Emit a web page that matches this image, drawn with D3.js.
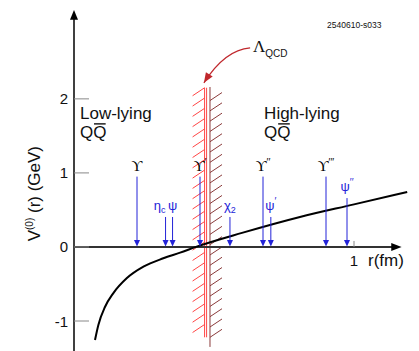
<!DOCTYPE html>
<html><head><meta charset="utf-8">
<script src="https://cdn.jsdelivr.net/npm/d3@7"></script>
<style>html,body{margin:0;padding:0;background:#fff}svg{display:block}</style>
</head><body><svg id="c" width="419" height="351"></svg>
<script>
// ---- data ----
const curveR = [0.075, 0.087, 0.111, 0.140, 0.188, 0.248, 0.319, 0.379, 0.438, 0.60, 0.807, 1.0, 1.19];
const curveV = [-1.257, -1.054, -0.807, -0.626, -0.423, -0.266, -0.153, -0.077, 0.004, 0.19, 0.405, 0.575, 0.743];
const yTicks = [-1, 0, 1, 2];
const yTickLabels = ["-1", "0", "1", "2"];
const xTicks = [1];
const xTickLabels = ["1"];
const stateName   = ["ϒ", "η", "ψ", "ϒ", "χ", "ϒ", "ψ", "ϒ", "ψ"];
const stateSub    = ["", "c", "", "", "2", "", "", "", ""];
const statePrime  = ["", "", "", "′", "", "′′", "′", "′′′", "′′"];
const stateR      = [0.225, 0.327, 0.352, 0.45, 0.557, 0.675, 0.703, 0.90, 0.975];
const stateTop    = [0.95, 0.405, 0.405, 0.95, 0.405, 0.95, 0.405, 0.95, 0.66];
const stateFamily = ["b", "c", "c", "b", "c", "b", "c", "b", "c"];
const lambdaR = [0.4664, 0.4736];
const lambdaRange = [-1.22, 2.15];
const wallR = 0.4857;
const wallRange = [-1.35, 2.16];

const svg = d3.select("#c");
const x = d3.scaleLinear().domain([0, 1.2]).range([74, 410]);
const y = d3.scaleLinear().domain([-1.405, 3.2]).range([351, 10]);
const SANS = "'Liberation Sans', Arial, Helvetica, sans-serif";
const SERIF = "'Liberation Serif', 'DejaVu Serif', serif";
const BLUE = "#2323d8";

// ---- Lambda_QCD wall with hatching ----
const hatch = svg.append("g");
lambdaR.forEach(r => {
  hatch.append("line").attr("x1", x(r)).attr("x2", x(r))
    .attr("y1", y(lambdaRange[1])).attr("y2", y(lambdaRange[0]))
    .attr("stroke", "#ff4545").attr("stroke-width", 1);
});
hatch.append("line").attr("x1", x(wallR)).attr("x2", x(wallR))
  .attr("y1", y(wallRange[1])).attr("y2", y(wallRange[0]))
  .attr("stroke", "#8a3a3a").attr("stroke-width", 1);
const redH = d3.range(lambdaRange[1], lambdaRange[0] + 0.12, -0.139);
hatch.selectAll(".rh").data(redH).join("line")
  .attr("x1", x(lambdaR[0]) - 12).attr("y1", d => y(d) + 8)
  .attr("x2", x(lambdaR[0])).attr("y2", d => y(d))
  .attr("stroke", "#ff4545").attr("stroke-width", 1);
const brH = d3.range(wallRange[1] - 0.075, wallRange[0] + 0.1, -0.139);
hatch.selectAll(".bh").data(brH).join("line")
  .attr("x1", x(wallR)).attr("y1", d => y(d) + 8)
  .attr("x2", x(wallR) + 12).attr("y2", d => y(d))
  .attr("stroke", "#8a3a3a").attr("stroke-width", 1);

// ---- axes ----
const ax = svg.append("g");
ax.append("line").attr("x1", x(0)).attr("x2", x(0)).attr("y1", 351).attr("y2", y(3.12))
  .attr("stroke", "#000").attr("stroke-width", 1.5);
ax.append("path").attr("d", `M${x(0)},${y(3.2)} L${x(0)-4},${y(3.07)} L${x(0)+4},${y(3.07)} Z`).attr("fill", "#000");
ax.append("line").attr("x1", x(0)).attr("x2", x(1.14)).attr("y1", y(0)).attr("y2", y(0))
  .attr("stroke", "#333").attr("stroke-width", 2);
ax.append("path").attr("d", `M${x(1.17)},${y(0)} L${x(1.133)},${y(0)-4} L${x(1.133)},${y(0)+4} Z`).attr("fill", "#000");
ax.selectAll(".yt").data(yTicks).join("line")
  .attr("x1", x(0)).attr("x2", x(0) + 15).attr("y1", d => y(d)).attr("y2", d => y(d))
  .attr("stroke", "#888").attr("stroke-width", 1);
ax.selectAll(".ytl").data(yTicks).join("text")
  .attr("x", x(0) - 6).attr("y", d => y(d) + 5.5)
  .attr("text-anchor", "end").attr("font-family", SANS).attr("font-size", 15).attr("fill", "#111")
  .text((d, i) => yTickLabels[i]);
ax.selectAll(".xt").data(xTicks).join("line")
  .attr("x1", d => x(d)).attr("x2", d => x(d)).attr("y1", y(0)).attr("y2", y(0) - 6)
  .attr("stroke", "#888").attr("stroke-width", 1);
ax.selectAll(".xtl").data(xTicks).join("text")
  .attr("x", d => x(d)).attr("y", y(0) + 19)
  .attr("text-anchor", "middle").attr("font-family", SANS).attr("font-size", 15).attr("fill", "#111")
  .text((d, i) => xTickLabels[i]);
svg.append("text").attr("x", x(1.05)).attr("y", y(0) + 19)
  .attr("font-family", SANS).attr("font-size", 17).attr("fill", "#111").text("r(fm)");
const yl = svg.append("text").attr("transform", `translate(40,${y(0.72)}) rotate(-90)`)
  .attr("text-anchor", "middle").attr("font-family", SANS).attr("font-size", 17).attr("fill", "#111");
yl.append("tspan").text("V");
yl.append("tspan").attr("font-size", 10).attr("dy", -7).text("(0)");
yl.append("tspan").attr("dy", 7).text(" (r) (GeV)");

// ---- potential curve ----
const line = d3.line().x(d => x(d[0])).y(d => y(d[1])).curve(d3.curveMonotoneX);
svg.append("path").attr("d", line(curveR.map((r, i) => [r, curveV[i]])))
  .attr("fill", "none").attr("stroke", "#000").attr("stroke-width", 2);

// ---- state arrows ----
const st = svg.append("g");
stateR.forEach((r, i) => {
  const cx = x(r);
  st.append("line").attr("x1", cx).attr("x2", cx).attr("y1", y(stateTop[i])).attr("y2", y(0) - 5)
    .attr("stroke", BLUE).attr("stroke-width", 1);
  st.append("path").attr("d", `M${cx},${y(0) - 0.5} L${cx - 3},${y(0) - 7} L${cx + 3},${y(0) - 7} Z`)
    .attr("fill", BLUE);
  const isB = stateFamily[i] === "b";
  const t = st.append("text").attr("x", cx).attr("y", y(stateTop[i]) - (isB ? 6 : 7))
    .attr("text-anchor", stateSub[i] === "c" ? "end" : "middle")
    .attr("font-family", isB ? SERIF : SANS).attr("font-size", isB ? 15 : 13)
    .attr("fill", isB ? "#000" : BLUE);
  t.append("tspan").text(stateName[i]);
  if (stateSub[i]) t.append("tspan").attr("font-size", 9).attr("dy", 3).attr("font-family", SANS).text(stateSub[i]);
  if (statePrime[i]) t.append("tspan").attr("font-size", 10).attr("dy", -5).attr("font-family", SANS).text(statePrime[i]);
});

// ---- annotations ----
function twoLine(r, v, w1) {
  const g = svg.append("g").attr("font-family", SANS).attr("font-size", 17).attr("fill", "#111");
  g.append("text").attr("x", x(r)).attr("y", y(v)).text(w1);
  const q = g.append("text").attr("x", x(r)).attr("y", y(v - 0.257)).text("QQ");
  const wq = q.node().getSubStringLength(0, 1);
  const x0 = x(r) + wq;
  const yb = y(v - 0.257) - 14;
  g.append("line").attr("x1", x0 + 0.8).attr("x2", x0 + wq - 0.8)
    .attr("y1", yb).attr("y2", yb).attr("stroke", "#111").attr("stroke-width", 1.4);
}
twoLine(0.0214, 1.73, "Low-lying");
twoLine(0.679, 1.73, "High-lying");

const lam = svg.append("text").attr("x", x(0.639)).attr("y", y(2.635)).attr("fill", "#111");
lam.append("tspan").attr("font-family", SERIF).attr("font-size", 17).text("Λ");
lam.append("tspan").attr("font-family", SANS).attr("font-size", 10).attr("dy", 5).text("QCD");
const p0 = [x(0.629), y(2.689)], pc = [x(0.539), y(2.662)], p1 = [x(0.464), y(2.216)];
svg.append("path").attr("d", `M${p0} Q${pc} ${p1}`).attr("fill", "none").attr("stroke", "#c0282d").attr("stroke-width", 1.3);
{
  const dx = p1[0] - pc[0], dy = p1[1] - pc[1], L = Math.hypot(dx, dy), ux = dx / L, uy = dy / L;
  const bx = p1[0] - ux * 10, by = p1[1] - uy * 10;
  svg.append("path").attr("d", `M${p1} L${bx - uy * 4},${by + ux * 4} L${bx + uy * 4},${by - ux * 4} Z`).attr("fill", "#c0282d");
}
svg.append("text").attr("x", x(0.904)).attr("y", y(2.96)).attr("font-family", SANS).attr("font-size", 8.5)
  .attr("fill", "#111").text("2540610-s033");
</script></body></html>
